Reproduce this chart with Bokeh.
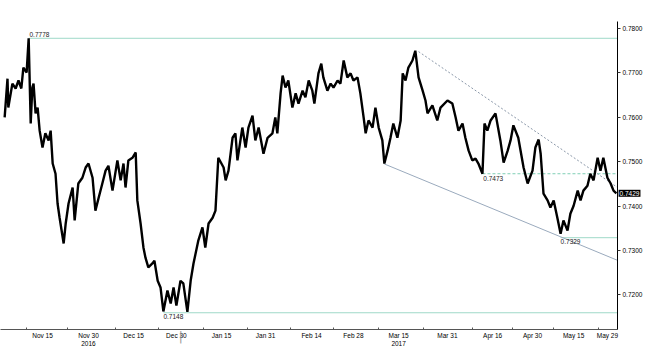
from bokeh.plotting import figure
from bokeh.models import FixedTicker, Range1d, Label, NumeralTickFormatter
from bokeh.core.properties import value
from bokeh.embed import file_html
from bokeh.resources import INLINE

# trading-session index (Nov 1 2016 = 0) and AUD/USD price
day = [0.7, 1.4, 1.6, 2.6, 3.4, 4.1, 4.8, 5.3, 6.1, 6.6, 7.1, 7.5, 7.8, 8.3, 8.8, 9.3,
       10.0, 10.7, 11.5, 12.0, 12.5, 13.2, 13.7, 14.2, 15.2, 15.7, 16.4, 17.4, 17.9, 18.8,
       19.8, 20.6, 21.3, 22.3, 23.0, 23.8, 24.7, 25.5, 26.2, 27.2, 28.4, 29.2, 29.9, 30.4,
       31.1, 32.1, 32.9, 33.3, 34.1, 34.8, 35.3, 36.0, 37.0, 37.5, 38.3, 39.0, 39.7, 40.7,
       41.5, 42.2, 42.9, 43.9, 44.6, 45.6, 46.4, 47.1, 48.3, 49.3, 50.0, 50.8, 51.8, 52.5,
       53.2, 54.5, 55.0, 55.7, 56.7, 57.4, 57.9, 59.1, 59.9, 60.6, 61.6, 62.3, 63.1, 64.3,
       65.3, 66.5, 67.2, 67.7, 68.5, 69.0, 69.7, 70.4, 71.4, 72.2, 72.9, 73.9, 74.6, 75.4,
       76.3, 76.8, 77.8, 78.5, 79.0, 80.0, 80.8, 81.5, 82.5, 83.2, 84.0, 84.9, 85.7, 86.4,
       87.4, 88.1, 88.9, 89.4, 90.1, 91.1, 91.8, 92.6, 93.5, 94.0, 94.8, 95.5, 96.2, 97.2,
       98.0, 98.5, 99.2, 99.9, 100.9, 101.6, 102.4, 103.4, 104.1, 104.6, 105.8, 107.0, 107.8,
       109.5, 110.7, 111.5, 112.2, 113.2, 113.9, 114.7, 115.6, 116.4, 117.1, 118.1, 118.6,
       119.3, 120.1, 121.3, 122.5, 123.3, 124.3, 125.0, 125.7, 126.9, 128.2, 129.2, 130.4,
       131.1, 131.9, 132.4, 133.1, 134.1, 134.8, 135.6, 136.5, 137.3, 138.0, 139.0, 139.7,
       140.5, 141.5, 142.2, 142.9, 143.9, 144.6, 145.4, 146.4, 147.1, 147.8, 148.8, 149.6,
       150.3, 151.0]
price = [0.7600, 0.7687, 0.7622, 0.7676, 0.7665, 0.7683, 0.7665, 0.7712, 0.7701, 0.7778,
         0.7586, 0.7667, 0.7676, 0.7609, 0.7622, 0.7570, 0.7532, 0.7564, 0.7548, 0.7570,
         0.7496, 0.7473, 0.7406, 0.7374, 0.7316, 0.7361, 0.7406, 0.7442, 0.7368, 0.7451,
         0.7464, 0.7487, 0.7496, 0.7464, 0.7390, 0.7419, 0.7451, 0.7480, 0.7491, 0.7435,
         0.7503, 0.7458, 0.7496, 0.7442, 0.7503, 0.7509, 0.7521, 0.7413, 0.7361, 0.7307,
         0.7284, 0.7262, 0.7271, 0.7277, 0.7232, 0.7217, 0.7163, 0.7210, 0.7181, 0.7217,
         0.7176, 0.7232, 0.7226, 0.7162, 0.7232, 0.7271, 0.7323, 0.7352, 0.7307, 0.7361,
         0.7374, 0.7390, 0.7509, 0.7487, 0.7458, 0.7480, 0.7554, 0.7564, 0.7503, 0.7577,
         0.7532, 0.7577, 0.7604, 0.7548, 0.7577, 0.7518, 0.7554, 0.7564, 0.7600, 0.7564,
         0.7654, 0.7694, 0.7667, 0.7683, 0.7622, 0.7654, 0.7631, 0.7660, 0.7645, 0.7683,
         0.7660, 0.7631, 0.7699, 0.7721, 0.7690, 0.7660, 0.7676, 0.7667, 0.7683, 0.7676,
         0.7728, 0.7690, 0.7699, 0.7683, 0.7690, 0.7654, 0.7600, 0.7564, 0.7593, 0.7577,
         0.7622, 0.7577, 0.7548, 0.7496, 0.7525, 0.7554, 0.7586, 0.7554, 0.7593, 0.7699,
         0.7683, 0.7712, 0.7728, 0.7750, 0.7690, 0.7660, 0.7638, 0.7609, 0.7627, 0.7593,
         0.7622, 0.7638, 0.7631, 0.7600, 0.7570, 0.7586, 0.7554, 0.7525, 0.7503, 0.7507,
         0.7496, 0.7473, 0.7586, 0.7570, 0.7593, 0.7609, 0.7548, 0.7498, 0.7525, 0.7548,
         0.7582, 0.7554, 0.7487, 0.7451, 0.7480, 0.7532, 0.7550, 0.7518, 0.7428, 0.7413,
         0.7397, 0.7413, 0.7374, 0.7338, 0.7368, 0.7345, 0.7383, 0.7401, 0.7435, 0.7413,
         0.7435, 0.7446, 0.7473, 0.7458, 0.7509, 0.7480, 0.7509, 0.7464, 0.7451, 0.7435,
         0.7429]

# x-axis labels
tick_pos = [10.0, 21.3, 32.4, 42.9, 54.0, 64.8, 76.1, 86.4, 97.5, 109.5, 120.6, 130.4, 140.5, 148.8]
tick_lbl = ["Nov 15", "Nov 30\n2016", "Dec 15", "Dec 30", "Jan 15", "Jan 31", "Feb 14",
            "Feb 28", "Mar 15\n2017", "Mar 31", "Apr 16", "Apr 30", "May 15", "May 29"]
minor_pos = [6.1, 16.1, 27.9, 38.5, 49.6, 60.4, 71.0, 81.5, 92.6, 103.6, 115.6, 125.5, 135.6, 146.6]
year_break = 44.0
y_ticks = [0.72, 0.73, 0.74, 0.75, 0.76, 0.77, 0.78]

# horizontal level lines
lvl_price = [0.7778, 0.7160, 0.7329]
lvl_start = [6.6, 39.7, 137.3]
lvl_text = ["0.7778", "0.7148", "0.7329"]
dash_price = 0.7473
dash_start = 118.1
# trend lines
res_day = [102.4, 151.3]
res_price = [0.7748, 0.7442]
sup_day = [94.0, 151.3]
sup_price = [0.7495, 0.7278]
last_price = 0.7429

X_END = 151.3
Y_LO, Y_HI = 0.71223, 0.78158
FONT = "Liberation Sans"
TEAL = "#9fd9c8"

p = figure(width=654, height=349, output_backend="svg", toolbar_location=None,
           x_range=Range1d(-0.32, 151.28), y_range=Range1d(Y_LO, Y_HI),
           y_axis_location="right", min_border_left=0, min_border_top=0,
           min_border_right=37, min_border_bottom=19)
p.grid.visible = False
p.outline_line_color = None

# level lines
p.segment(x0=lvl_start, y0=lvl_price, x1=[X_END] * len(lvl_price), y1=lvl_price,
          line_color=TEAL, line_width=1)
p.segment(x0=[dash_start], y0=[dash_price], x1=[X_END], y1=[dash_price],
          line_color="#7fcfb5", line_width=1, line_dash="3 2")
p.line(res_day, res_price, line_color="#8a97a8", line_width=1, line_dash="2 2")
p.line(sup_day, sup_price, line_color="#9aaabd", line_width=1)

# price path
p.line(day, price, line_color="black", line_width=2.4)

# level labels
p.text(x=[lvl_start[0] + 0.2], y=[lvl_price[0]], text=[lvl_text[0]], text_baseline="bottom",
       text_font=value(FONT), text_font_size="6.5px", text_color="#222222", y_offset=-1)
p.text(x=lvl_start[1:], y=lvl_price[1:], text=lvl_text[1:], text_baseline="top",
       text_font=value(FONT), text_font_size="6.5px", text_color="#222222", y_offset=1)
p.text(x=[dash_start + 0.2], y=[dash_price], text=["0.7473"], text_baseline="top",
       text_font=value(FONT), text_font_size="6.5px", text_color="#222222", y_offset=2)

# last price tag and year separator: side-panel labels are drawn unclipped
p.add_layout(Label(x=X_END, y=last_price, text="%.4f" % last_price, text_color="white",
                   background_fill_color="black", background_fill_alpha=1.0,
                   text_font=FONT, text_font_size="6.5px",
                   text_baseline="middle", x_offset=1, padding=1), "above")
p.add_layout(Label(x=year_break, y=Y_LO, text="|", text_color="#999999",
                   text_font="DejaVu Sans", text_font_size="12px", text_baseline="top",
                   text_align="center"), "above")

# x axis
xa = p.xaxis[0]
xa.ticker = FixedTicker(ticks=tick_pos, minor_ticks=minor_pos)
xa.major_label_overrides = {t: l for t, l in zip(tick_pos, tick_lbl)}
xa.major_tick_out = 0
xa.major_tick_in = 0
xa.minor_tick_in = 2
xa.minor_tick_out = 0
xa.minor_tick_line_color = "#555555"
xa.axis_line_color = "#555555"
xa.major_label_text_font = FONT
xa.major_label_text_font_size = "6.5px"
xa.major_label_text_color = "#000000"
xa.major_label_standoff = 2

# y axis
ya = p.yaxis[0]
ya.ticker = FixedTicker(ticks=y_ticks, minor_ticks=[])
ya.formatter = NumeralTickFormatter(format="0.0000")
ya.major_tick_out = 3
ya.major_tick_in = 0
ya.axis_line_color = "black"
ya.major_tick_line_color = "#333333"
ya.major_label_text_font = FONT
ya.major_label_text_font_size = "6.5px"
ya.major_label_text_color = "#000000"
ya.major_label_standoff = 2

open("out.html", "w").write(file_html(p, INLINE))
